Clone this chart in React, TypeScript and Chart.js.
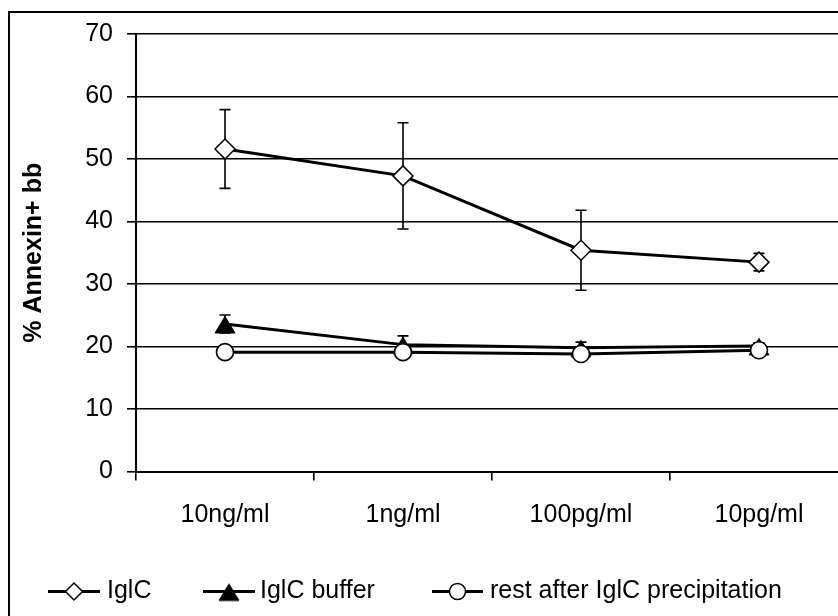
import React, { useEffect, useRef } from "react";
import { Chart, registerables } from "chart.js";

Chart.register(...registerables);

const categories = ["10ng/ml", "1ng/ml", "100pg/ml", "10pg/ml"];
const iglcValues = [51.6, 47.3, 35.4, 33.5];
const iglcErrors = [6.3, 8.5, 6.4, 1.4];
const bufferValues = [23.6, 20.3, 19.8, 20.1];
const bufferErrors = [1.45, 1.4, 0.9, 0.5];
const restValues = [19.1, 19.1, 18.8, 19.4];
const restErrors = [0.5, 0.5, 0.5, 0.5];
const seriesNames = ["IglC", "IglC buffer", "rest after IglC precipitation"];
const yTicks = [0, 10, 20, 30, 40, 50, 60, 70];

const FONT = "'Liberation Sans', Arial, sans-serif";

function makeTriangle(): HTMLCanvasElement {
  const c = document.createElement("canvas");
  c.width = 24;
  c.height = 24;
  const ctx = c.getContext("2d")!;
  ctx.fillStyle = "#000";
  ctx.strokeStyle = "#000";
  ctx.lineWidth = 1;
  ctx.beginPath();
  ctx.moveTo(12, 4.5);
  ctx.lineTo(22, 21);
  ctx.lineTo(2, 21);
  ctx.closePath();
  ctx.fill();
  ctx.stroke();
  return c;
}

export default function App() {
  const ref = useRef<HTMLCanvasElement | null>(null);

  useEffect(() => {
    if (!ref.current) return;
    const tri = makeTriangle();
    const errorSets = [iglcErrors, bufferErrors, restErrors];

    const errorBars = {
      id: "errorBars",
      beforeDatasetsDraw(chart: any) {
        const ctx = chart.ctx;
        const ys = chart.scales.y;
        ctx.save();
        ctx.strokeStyle = "#000";
        ctx.lineWidth = 1.6;
        chart.data.datasets.forEach((ds: any, di: number) => {
          const meta = chart.getDatasetMeta(di);
          const errs = errorSets[ds.errIndex];
          meta.data.forEach((pt: any, i: number) => {
            const v = ds.data[i];
            const e = errs[i];
            const yTop = ys.getPixelForValue(v + e);
            const yBot = ys.getPixelForValue(v - e);
            const x = pt.x;
            ctx.beginPath();
            ctx.moveTo(x, yTop);
            ctx.lineTo(x, yBot);
            ctx.moveTo(x - 5.5, yTop);
            ctx.lineTo(x + 5.5, yTop);
            ctx.moveTo(x - 5.5, yBot);
            ctx.lineTo(x + 5.5, yBot);
            ctx.stroke();
          });
        });
        ctx.restore();
      },
    };

    const frame = {
      id: "frame",
      beforeDraw(chart: any) {
        const ctx = chart.ctx;
        ctx.save();
        ctx.fillStyle = "#fff";
        ctx.fillRect(0, 0, chart.width, chart.height);
        ctx.strokeStyle = "#000";
        ctx.lineWidth = 2;
        ctx.beginPath();
        ctx.moveTo(1, chart.height);
        ctx.lineTo(1, 1);
        ctx.lineTo(chart.width, 1);
        ctx.stroke();
        ctx.restore();
      },
      afterDraw(chart: any) {
        const ctx = chart.ctx;
        const y = 580.5;
        ctx.save();
        ctx.strokeStyle = "#000";
        ctx.font = `25px ${FONT}`;
        ctx.textBaseline = "middle";
        ctx.fillStyle = "#000";
        const items = [
          { x0: 40, x1: 92, tx: 99, kind: "diamond" },
          { x0: 195, x1: 247, tx: 252, kind: "triangle" },
          { x0: 424, x1: 475, tx: 482, kind: "circle" },
        ];
        items.forEach((it, i) => {
          ctx.lineWidth = 3;
          ctx.beginPath();
          ctx.moveTo(it.x0, y);
          ctx.lineTo(it.x1, y);
          ctx.stroke();
          const cx = (it.x0 + it.x1) / 2;
          ctx.lineWidth = 1.5;
          if (it.kind === "diamond") {
            const r = 8.5;
            ctx.beginPath();
            ctx.moveTo(cx, y - r);
            ctx.lineTo(cx + r, y);
            ctx.lineTo(cx, y + r);
            ctx.lineTo(cx - r, y);
            ctx.closePath();
            ctx.fillStyle = "#fff";
            ctx.fill();
            ctx.stroke();
          } else if (it.kind === "triangle") {
            ctx.drawImage(tri, cx - 12, y - 12);
          } else {
            ctx.beginPath();
            ctx.arc(cx, y, 8, 0, Math.PI * 2);
            ctx.fillStyle = "#fff";
            ctx.fill();
            ctx.stroke();
          }
          ctx.fillStyle = "#000";
          ctx.fillText(seriesNames[i], it.tx, y);
        });
        ctx.restore();
      },
    };

    const chart = new Chart(ref.current, {
      type: "line",
      data: {
        labels: categories,
        datasets: [
          {
            label: seriesNames[0],
            data: iglcValues,
            errIndex: 0,
            order: 2,
            borderColor: "#000",
            borderWidth: 3,
            pointStyle: "rectRot",
            pointRadius: 10,
            pointBorderWidth: 1.5,
            pointBackgroundColor: "#fff",
            pointBorderColor: "#000",
          } as any,
          {
            label: seriesNames[1],
            data: bufferValues,
            errIndex: 1,
            order: 1,
            borderColor: "#000",
            borderWidth: 3,
            pointStyle: tri,
            pointRadius: 10,
            pointBackgroundColor: "#000",
            pointBorderColor: "#000",
          } as any,
          {
            label: seriesNames[2],
            data: restValues,
            errIndex: 2,
            order: 0,
            borderColor: "#000",
            borderWidth: 3,
            pointStyle: "circle",
            pointRadius: 8.5,
            pointBorderWidth: 1.6,
            pointBackgroundColor: "#fff",
            pointBorderColor: "#000",
          } as any,
        ],
      },
      options: {
        responsive: false,
        animation: false,
        devicePixelRatio: 1,
        layout: { padding: { left: 0, right: 30, top: 23, bottom: 0 } },
        plugins: {
          legend: { display: false },
          tooltip: { enabled: false },
        },
        scales: {
          x: {
            offset: true,
            grid: {
              offset: true,
              drawOnChartArea: false,
              drawTicks: true,
              tickLength: 9,
              color: "#000",
              lineWidth: 1.6,
            },
            border: { display: true, color: "#000", width: 2 },
            ticks: {
              color: "#000",
              font: { family: FONT, size: 25 },
              padding: 20,
              maxRotation: 0,
            },
            afterFit(scale: any) {
              scale.height = 159.5;
              scale.paddingLeft = 0;
              scale.paddingRight = 0;
            },
          },
          y: {
            min: 0,
            max: 70,
            afterBuildTicks(scale: any) {
              scale.ticks = yTicks.map((v) => ({ value: v }));
            },
            grid: {
              color: "#000",
              lineWidth: 1.6,
              tickLength: 9,
            },
            border: { display: true, color: "#000", width: 2 },
            ticks: {
              color: "#000",
              font: { family: FONT, size: 25 },
              padding: 14,
            },
            title: {
              display: true,
              text: "% Annexin+ bb",
              color: "#000",
              font: { family: FONT, size: 25, weight: "bold" },
              padding: { top: 11.5, bottom: 0 },
            },
            afterFit(scale: any) {
              scale.width = 128;
              scale.paddingTop = 0;
              scale.paddingBottom = 0;
            },
          },
        },
      } as any,
      plugins: [errorBars, frame],
    });
    return () => chart.destroy();
  }, []);

  return (
    <div
      style={{
        position: "fixed",
        left: 0,
        top: 0,
        width: 838,
        height: 616,
        overflow: "hidden",
        background: "#fff",
      }}
    >
      <canvas
        ref={ref}
        width={870}
        height={620}
        style={{ position: "absolute", left: 8, top: 11, width: 870, height: 620 }}
      />
    </div>
  );
}
